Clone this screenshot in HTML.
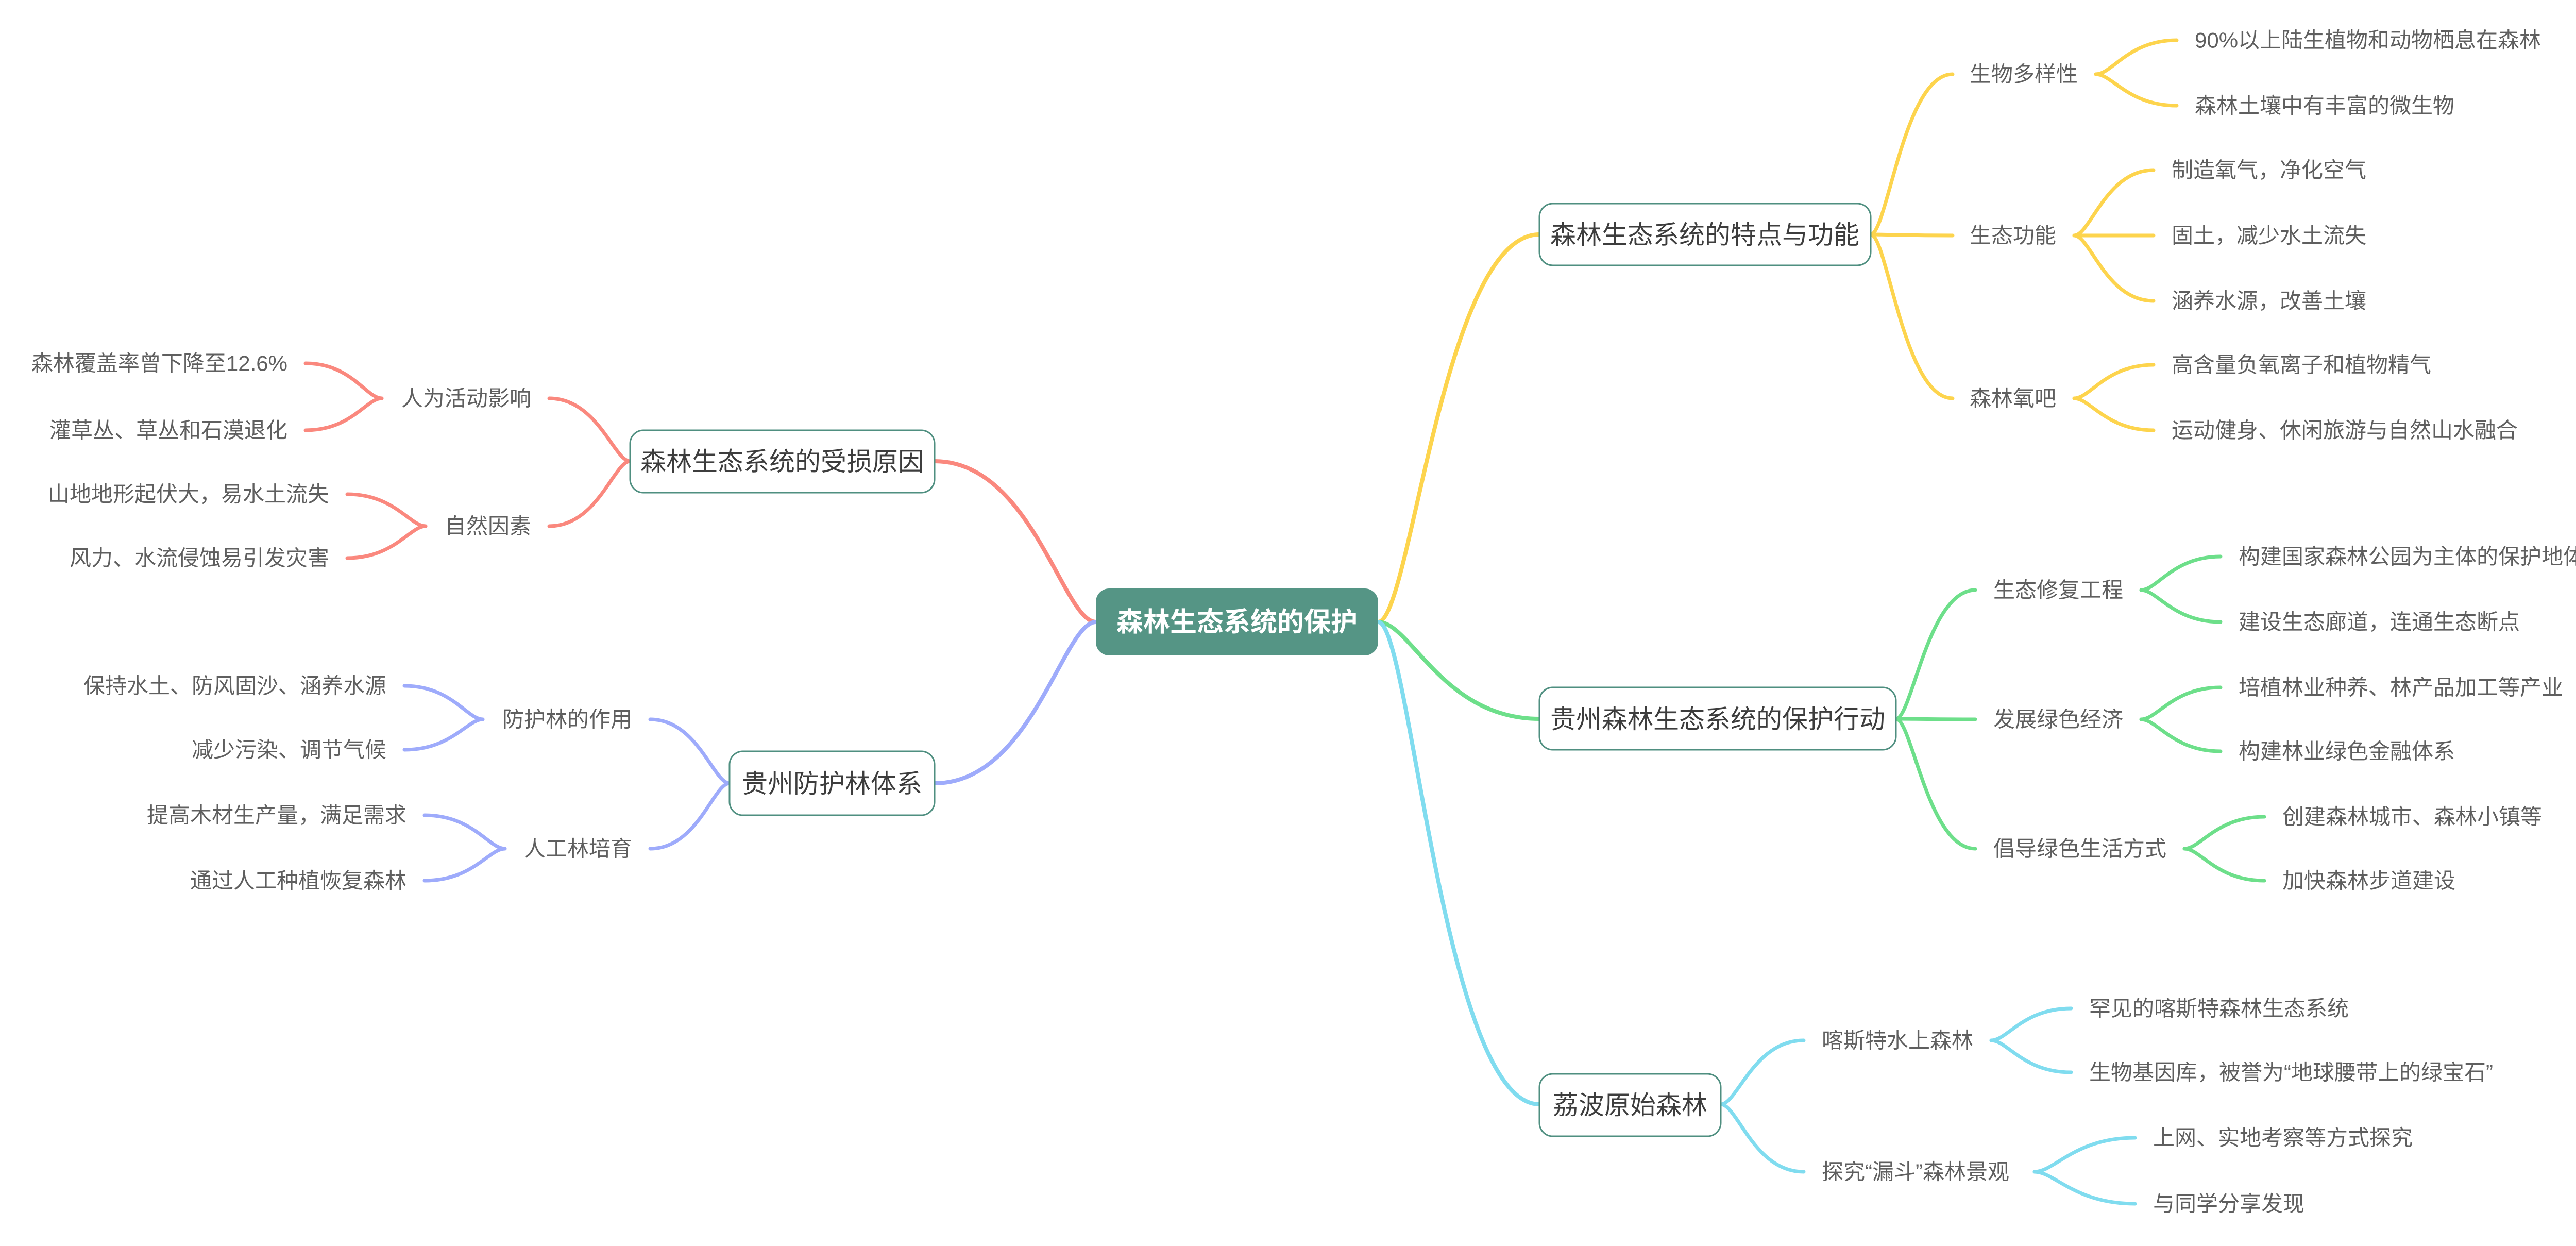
<!DOCTYPE html>
<html><head><meta charset="utf-8"><style>
html,body{margin:0;padding:0;background:#fff;}
svg{display:block;}
text{font-family:"Liberation Sans","Noto Sans CJK SC",sans-serif;dominant-baseline:central;}
.l{font-size:42px;fill:#5f5f5f;}
.m{font-size:50px;fill:#3d3d3d;}
</style></head><body>
<svg width="5115" height="2418" viewBox="0 0 5115 2418" xmlns="http://www.w3.org/2000/svg">
<g fill="none" stroke-linecap="round">
<!-- root branches -->
<g stroke-width="8">
<path stroke="#fdd44d" d="M2675 1207 C2738 1207,2800 455,2988 455"/>
<path stroke="#6ddf8a" d="M2675 1207 C2738 1207,2800 1395,2988 1395"/>
<path stroke="#80dcef" d="M2675 1207 C2738 1207,2800 2143,2988 2143"/>
<path stroke="#fa887e" d="M2127 1207 C2064 1207,2002 895,1814 895"/>
<path stroke="#9eabfb" d="M2127 1207 C2064 1207,2002 1520,1814 1520"/>
</g>
<g stroke-width="7">
<!-- yellow -->
<g stroke="#fdd44d">
<path d="M3631 455 C3663 455,3695 144,3790 144"/>
<path d="M3631 455 C3663 455,3695 457,3790 457"/>
<path d="M3631 455 C3663 455,3695 773,3790 773"/>
<path d="M4068 144 C4100 144,4131 78,4225 78"/>
<path d="M4068 144 C4100 144,4131 205,4225 205"/>
<path d="M4026 457 C4057 457,4088 330,4180 330"/>
<path d="M4026 457 C4057 457,4088 457,4180 457"/>
<path d="M4026 457 C4057 457,4088 584,4180 584"/>
<path d="M4026 773 C4057 773,4088 708,4180 708"/>
<path d="M4026 773 C4057 773,4088 835,4180 835"/>
</g>
<!-- green -->
<g stroke="#6ddf8a">
<path d="M3680 1395 C3711 1395,3742 1145,3834 1145"/>
<path d="M3680 1395 C3711 1395,3742 1396,3834 1396"/>
<path d="M3680 1395 C3711 1395,3742 1647,3834 1647"/>
<path d="M4156 1145 C4187 1145,4218 1080,4310 1080"/>
<path d="M4156 1145 C4187 1145,4218 1207,4310 1207"/>
<path d="M4156 1396 C4187 1396,4218 1334,4310 1334"/>
<path d="M4156 1396 C4187 1396,4218 1458,4310 1458"/>
<path d="M4240 1647 C4271 1647,4302 1585,4395 1585"/>
<path d="M4240 1647 C4271 1647,4302 1709,4395 1709"/>
</g>
<!-- cyan -->
<g stroke="#80dcef">
<path d="M3340 2143 C3372 2143,3404 2019,3501 2019"/>
<path d="M3340 2143 C3372 2143,3404 2274,3501 2274"/>
<path d="M3865 2019 C3896 2019,3927 1957,4020 1957"/>
<path d="M3865 2019 C3896 2019,3927 2081,4020 2081"/>
<path d="M3949 2274 C3988 2274,4027 2208,4144 2208"/>
<path d="M3949 2274 C3988 2274,4027 2336,4144 2336"/>
</g>
<!-- red -->
<g stroke="#fa887e">
<path d="M1223 895 C1192 895,1160 773,1066 773"/>
<path d="M1223 895 C1192 895,1160 1021,1066 1021"/>
<path d="M741 773 C711 773,682 705,593 705"/>
<path d="M741 773 C711 773,682 835,593 835"/>
<path d="M826 1021 C796 1021,765 959,674 959"/>
<path d="M826 1021 C796 1021,765 1083,674 1083"/>
</g>
<!-- blue -->
<g stroke="#9eabfb">
<path d="M1416 1520 C1385 1520,1354 1396,1262 1396"/>
<path d="M1416 1520 C1385 1520,1354 1647,1262 1647"/>
<path d="M937 1396 C907 1396,876 1331,785 1331"/>
<path d="M937 1396 C907 1396,876 1455,785 1455"/>
<path d="M980 1647 C949 1647,918 1582,824 1582"/>
<path d="M980 1647 C949 1647,918 1709,824 1709"/>
</g>
</g>
</g>

<!-- root -->
<rect x="2127" y="1142" width="548" height="130" rx="26" fill="#559585"/>
<text x="2401" y="1208" text-anchor="middle" font-size="52" font-weight="bold" fill="#fff">森林生态系统的保护</text>

<!-- main boxes -->
<g fill="#fff" stroke="#4f8f80" stroke-width="3">
<rect x="2988" y="395" width="643" height="120" rx="26"/>
<rect x="2988" y="1334" width="692" height="121" rx="26"/>
<rect x="2988" y="2084" width="352" height="121" rx="26"/>
<rect x="1223" y="835" width="591" height="121" rx="26"/>
<rect x="1416" y="1458" width="398" height="124" rx="26"/>
</g>
<text class="m" x="3309" y="456" text-anchor="middle">森林生态系统的特点与功能</text>
<text class="m" x="3334" y="1396" text-anchor="middle">贵州森林生态系统的保护行动</text>
<text class="m" x="3164" y="2145" text-anchor="middle">荔波原始森林</text>
<text class="m" x="1518" y="896" text-anchor="middle">森林生态系统的受损原因</text>
<text class="m" x="1615" y="1521" text-anchor="middle">贵州防护林体系</text>

<!-- right subtopics & leaves -->
<text class="l" x="3823" y="144">生物多样性</text>
<text class="l" x="3823" y="457">生态功能</text>
<text class="l" x="3823" y="773">森林氧吧</text>
<text class="l" x="4260" y="78">90%以上陆生植物和动物栖息在森林</text>
<text class="l" x="4260" y="205">森林土壤中有丰富的微生物</text>
<text class="l" x="4215" y="330">制造氧气，净化空气</text>
<text class="l" x="4215" y="457">固土，减少水土流失</text>
<text class="l" x="4215" y="584">涵养水源，改善土壤</text>
<text class="l" x="4215" y="708">高含量负氧离子和植物精气</text>
<text class="l" x="4215" y="835">运动健身、休闲旅游与自然山水融合</text>

<text class="l" x="3869" y="1145">生态修复工程</text>
<text class="l" x="3869" y="1396">发展绿色经济</text>
<text class="l" x="3869" y="1647">倡导绿色生活方式</text>
<text class="l" x="4345" y="1080">构建国家森林公园为主体的保护地体系</text>
<text class="l" x="4345" y="1207">建设生态廊道，连通生态断点</text>
<text class="l" x="4345" y="1334">培植林业种养、林产品加工等产业</text>
<text class="l" x="4345" y="1458">构建林业绿色金融体系</text>
<text class="l" x="4430" y="1585">创建森林城市、森林小镇等</text>
<text class="l" x="4430" y="1709">加快森林步道建设</text>

<text class="l" x="3536" y="2019">喀斯特水上森林</text>
<text class="l" x="3536" y="2274">探究“漏斗”森林景观</text>
<text class="l" x="4055" y="1957">罕见的喀斯特森林生态系统</text>
<text class="l" x="4055" y="2081">生物基因库，被誉为“地球腰带上的绿宝石”</text>
<text class="l" x="4179" y="2208">上网、实地考察等方式探究</text>
<text class="l" x="4179" y="2336">与同学分享发现</text>

<!-- left -->
<text class="l" x="1031" y="773" text-anchor="end">人为活动影响</text>
<text class="l" x="1031" y="1021" text-anchor="end">自然因素</text>
<text class="l" x="558" y="705" text-anchor="end">森林覆盖率曾下降至12.6%</text>
<text class="l" x="558" y="835" text-anchor="end">灌草丛、草丛和石漠退化</text>
<text class="l" x="639" y="959" text-anchor="end">山地地形起伏大，易水土流失</text>
<text class="l" x="639" y="1083" text-anchor="end">风力、水流侵蚀易引发灾害</text>

<text class="l" x="1227" y="1396" text-anchor="end">防护林的作用</text>
<text class="l" x="1227" y="1647" text-anchor="end">人工林培育</text>
<text class="l" x="750" y="1331" text-anchor="end">保持水土、防风固沙、涵养水源</text>
<text class="l" x="750" y="1455" text-anchor="end">减少污染、调节气候</text>
<text class="l" x="789" y="1582" text-anchor="end">提高木材生产量，满足需求</text>
<text class="l" x="789" y="1709" text-anchor="end">通过人工种植恢复森林</text>
</svg>
</body></html>
